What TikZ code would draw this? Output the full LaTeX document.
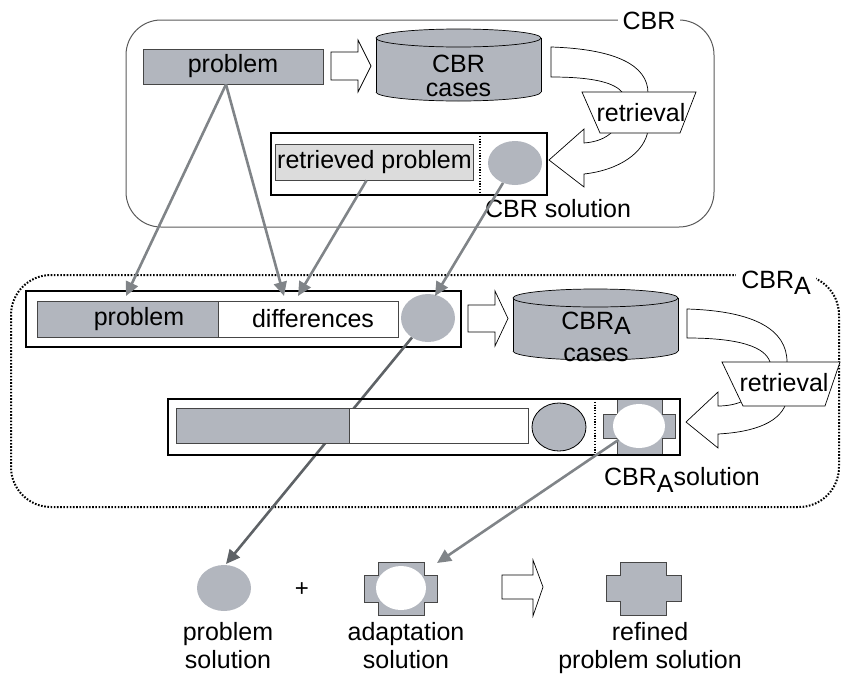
\documentclass[tikz,border=0pt]{standalone}
\usepackage{fontspec}
\setmainfont{Liberation Sans}
\usetikzlibrary{arrows.meta,shapes.geometric}
\definecolor{gfill}{RGB}{178,182,190}
\definecolor{lfill}{RGB}{220,220,220}
\definecolor{edgeg}{RGB}{70,70,70}
\definecolor{connc}{RGB}{128,132,136}
\definecolor{connd}{RGB}{94,98,102}
\definecolor{regc}{RGB}{90,90,90}
\newcommand\mycyl[4]{%
 \fill[gfill] (#1,#3) rectangle (#2,#4);
 \fill[gfill] ({(#1+#2)/2},#4) ellipse [x radius={(#2-#1)/2}, y radius=9];
 \begin{scope}\clip (#1-2,#4) rectangle (#2+2,#4+12);
 \draw[line width=0.7pt] ({(#1+#2)/2},#4) ellipse [x radius={(#2-#1)/2}, y radius=9];\end{scope}
 \draw[line width=0.7pt] (#1,#3) -- (#1,#4) (#2,#3) -- (#2,#4);
 \draw[line width=0.7pt, fill=gfill] ({(#1+#2)/2},#3) ellipse [x radius={(#2-#1)/2}, y radius=9];}
\newcommand\blockarr[7]{\draw[wsh] (#1,#4) -- (#2,#4) -- (#2,#6) -- (#3,{(#4+#5)/2}) -- (#2,#7) -- (#2,#5) -- (#1,#5) -- cycle;}
\newcommand\mycross[9]{\draw[#1] (#3,#6) -- (#4,#6) -- (#4,#7) -- (#5,#7) -- (#5,#8) -- (#4,#8) -- (#4,#9) -- (#3,#9) -- (#3,#8) -- (#2,#8) -- (#2,#7) -- (#3,#7) -- cycle;}
\begin{document}
\begin{tikzpicture}[x=1pt,y=-1pt,
  font=\fontsize{25}{29}\selectfont,
  lbl/.style={inner sep=0pt, text=black},
  grect/.style={draw=edgeg, line width=0.8pt, fill=gfill, inner sep=0pt},
  lrect/.style={draw=edgeg, line width=0.8pt, fill=lfill, inner sep=0pt},
  wrect/.style={draw=edgeg, line width=0.8pt, fill=white, inner sep=0pt},
  thickbox/.style={draw=black, line width=2.6pt, inner sep=0pt},
  gell/.style={ellipse, fill=gfill, inner sep=0pt},
  well/.style={ellipse, fill=white, inner sep=0pt},
  wsh/.style={draw=black, line width=0.7pt, fill=white},
  crossst/.style={draw=edgeg, line width=1pt, fill=gfill},
  dotst/.style={draw=black, line width=1.2pt, dash pattern=on 1.2pt off 1.6pt},
  conn/.style={draw=connc, line width=2.6pt, -{Triangle[length=14pt,width=13pt]}},
  connk/.style={conn, draw=connd},
  regst/.style={draw=regc, line width=1pt, rounded corners=35pt},
  regAst/.style={draw=black, line width=2pt, dash pattern=on 1.6pt off 1.6pt, rounded corners=40pt}]
\useasboundingbox (0,0) rectangle (841,675);

% regions
\draw[regst] (126,20) rectangle (714,227);
\node[fill=white, inner xsep=5pt, inner ysep=2pt, anchor=base] (cbrlab) at (649,29) {CBR};
\draw[regAst] (11,275) rectangle (839,507);
\node[fill=white, inner xsep=5pt, inner ysep=2pt, anchor=base] (cbralab) at (776,288) {CBR\raisebox{-6pt}{A}};

% ---- CBR ----
\node[grect, minimum width=180pt, minimum height=35pt] (probT) at (233,66.5) {problem};
\blockarr{331}{358}{371}{52}{80}{40}{92}
\mycyl{376}{541}{38}{92}
\node[lbl, anchor=base] (cylTa) at (458.5,72) {CBR};
\node[lbl, anchor=base] (cylTb) at (458.5,96) {cases};
\draw[wsh] (551,47) .. controls (615,49) and (648,65) .. (648,93) -- (648,130)
  .. controls (645,152) and (620,170) .. (584,174) -- (584,187) -- (549,160) -- (584,129) -- (584,143)
  .. controls (597,142) and (606,138) .. (612,132) -- (623,93)
  .. controls (615,83) and (595,77) .. (551,77) -- cycle;
\draw[wsh] (582,92) -- (696,92) -- (680,133) -- (600,133) -- cycle;
\node[lbl, anchor=base] (retrT) at (641,121) {retrieval};
\node[lrect, minimum width=198pt, minimum height=36pt] (retrProb) at (374.5,162) {retrieved problem};
\draw[dotst] (480,133) -- (480,195);
\node[gell, minimum width=54pt, minimum height=44pt] (solC) at (515,163) {};
\node[thickbox, minimum width=276pt, minimum height=62pt] (resT) at (409,164) {};
\node[lbl, anchor=base] (solTlab) at (558,217) {CBR solution};

% ---- CBR_A ----
\node[grect, minimum width=181pt, minimum height=36pt] (probA) at (127.5,319) {\hspace*{23pt}problem};
\node[wrect, minimum width=180pt, minimum height=36pt] (diffA) at (308,319) {\hspace*{10pt}differences};
\node[gell, minimum width=54pt, minimum height=48pt] (ellA) at (428,318) {};
\node[thickbox, minimum width=435pt, minimum height=56pt] (topA) at (243.5,319) {};
\blockarr{468}{495}{508}{305}{332}{291}{346}
\mycyl{513}{678}{298}{351}
\node[lbl, anchor=base] (cylAa) at (596,329) {CBR\raisebox{-5pt}{A}};
\node[lbl, anchor=base] (cylAb) at (596,361) {cases};
\draw[wsh] (687,309) .. controls (755,311) and (787,330) .. (787,362) -- (787,400)
  .. controls (782,422) and (755,432) .. (718,434) -- (718,448) -- (686,422) -- (718,392) -- (718,406)
  .. controls (728,406) and (738,404) .. (745,400) -- (770,362)
  .. controls (765,347) and (740,338) .. (687,338) -- cycle;
\draw[wsh] (722,362) -- (840,362) -- (825,406) -- (743,406) -- cycle;
\node[lbl, anchor=base] (retrA) at (784,391) {retrieval};

% line from problem solution of CBR_A case
\coordinate (t5) at (226,564);
\draw[connk] (ellA) -- (t5);

\node[grect, minimum width=173pt, minimum height=35pt] (gA2) at (262.5,425.5) {};
\node[wrect, minimum width=179pt, minimum height=35pt] (wA2) at (438.5,425.5) {};
\node[gell, draw=black, line width=0.8pt, minimum width=54pt, minimum height=48pt] (ellA2) at (559,427) {};
\draw[dotst] (595,399) -- (595,455);
\mycross{crossst}{603}{617}{662}{675}{399}{414}{438}{455}
\node[well, minimum width=52pt, minimum height=44pt] (wA) at (639,426) {};
\node[thickbox, minimum width=512pt, minimum height=56pt] (botA) at (424,427) {};
\node[lbl, anchor=base] (solAlab) at (682,485) {CBR\raisebox{-7pt}{A}solution};

% ---- bottom row ----
\node[gell, minimum width=54pt, minimum height=46pt] (psol) at (224,588) {};
\node[lbl, font=\fontsize{24}{26}\selectfont] (plus) at (302,590) {+};
\mycross{crossst}{364}{378}{424}{437}{562}{575}{602}{615}
\node[well, minimum width=50pt, minimum height=44pt] (adw) at (401,588) {};
\blockarr{502}{533}{543}{575}{599}{560}{616}
\mycross{crossst}{606}{620}{666}{681}{562}{575}{601}{615}
\node[lbl, anchor=base] (l1a) at (228,640) {problem};
\node[lbl, anchor=base] (l1b) at (228,668) {solution};
\node[lbl, anchor=base] (l2a) at (406,640) {adaptation};
\node[lbl, anchor=base] (l2b) at (406,668) {solution};
\node[lbl, anchor=base] (l3a) at (650,640) {refined};
\node[lbl, anchor=base] (l3b) at (650,668) {problem solution};

% ---- connectors ----
\coordinate (t6) at (437,563);
\draw[conn] (wA) -- (t6);
\coordinate (t1) at (126,296);
\coordinate (t2) at (284,296);
\coordinate (t3) at (298,296);
\coordinate (t4) at (435,296);
\draw[conn] ([xshift=-7pt]probT.south) -- (t1);
\draw[conn] ([xshift=-7pt]probT.south) -- (t2);
\draw[conn] ([xshift=-8pt]retrProb.south) -- (t3);
\draw[conn] (solC) -- (t4);
\end{tikzpicture}
\end{document}
